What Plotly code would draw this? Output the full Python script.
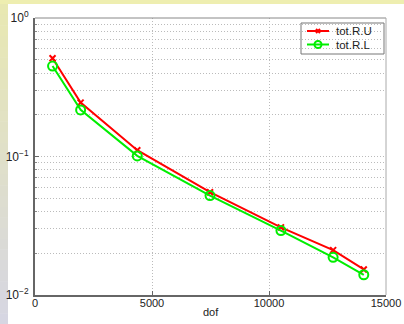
import plotly.graph_objects as go

dof = [750, 1950, 4370, 7480, 10510, 12740, 14050]
tot_R_U = [0.512, 0.245, 0.111, 0.0552, 0.0308, 0.0211, 0.0153]
tot_R_L = [0.450, 0.217, 0.101, 0.0522, 0.0292, 0.0187, 0.0140]
series_names = ["tot.R.U", "tot.R.L"]
series_colors = ["#ff0000", "#00ee00"]

x_ticks = [0, 5000, 10000, 15000]
x_ticktext = ["0", "5000", "10000", "15000"]
y_ticks = [0.01, 0.1, 1]
y_ticktext = ["10<sup>\u22122</sup>", "10<sup>\u22121</sup>", "10<sup>0</sup>"]
y_minor = [m * 10 ** e for e in (-2, -1) for m in range(2, 10)]
x_title = "dof"

W, H = 404, 324
ML, MR, MT, MB = 35, 18, 18, 29
PW, PH = W - ML - MR, H - MT - MB

def px2paper(x, y):
    return (x - ML) / PW, (H - MB - y) / PH

marker_u = dict(symbol="x-thin", size=6, color=series_colors[0], line=dict(color=series_colors[0], width=2))
marker_l = dict(symbol="circle-open", size=9, color=series_colors[1], line=dict(width=2))

fig = go.Figure()
fig.add_trace(go.Scatter(x=dof, y=tot_R_U, name=series_names[0], mode="lines+markers",
                         line=dict(color=series_colors[0], width=2), marker=marker_u, showlegend=False))
fig.add_trace(go.Scatter(x=dof, y=tot_R_L, name=series_names[1], mode="lines+markers",
                         line=dict(color=series_colors[1], width=2), marker=marker_l, showlegend=False))

# manual compact legend on an overlay pixel axis (y measured from top)
leg_rows = [31, 44.5]
for name, col, mk, yy in zip(series_names, series_colors, [marker_u, marker_l], leg_rows):
    fig.add_trace(go.Scatter(x=[307, 329], y=[yy, yy], mode="lines", line=dict(color=col, width=2),
                             xaxis="x2", yaxis="y2", showlegend=False, hoverinfo="skip"))
    fig.add_trace(go.Scatter(x=[318], y=[yy], mode="markers", marker=dict(mk, size=mk["size"] - 2),
                             xaxis="x2", yaxis="y2", showlegend=False, hoverinfo="skip"))

annotations = []
for name, yy in zip(series_names, leg_rows):
    ax, ay = px2paper(334, yy)
    annotations.append(dict(xref="paper", yref="paper", x=ax, y=ay, text=name, showarrow=False,
                            xanchor="left", yanchor="middle", font=dict(size=11.5, color="#222222")))
tx, ty = px2paper(ML + PW / 2, 312)
annotations.append(dict(xref="paper", yref="paper", x=tx, y=ty, text=x_title, showarrow=False,
                        xanchor="center", yanchor="middle", font=dict(size=11, color="#222222")))

shapes = []
x0, y0 = px2paper(0, 0)
x1, y1 = px2paper(W, 4)
shapes.append(dict(type="rect", xref="paper", yref="paper", x0=x0, x1=x1, y0=y1, y1=y0,
                   fillcolor="#eeeeb0", line=dict(width=0), layer="below"))
n = 30
c_top = (232, 232, 178)
c_bot = (214, 214, 226)
for i in range(n):
    t = i / (n - 1)
    c = tuple(int(round(a + (b - a) * t)) for a, b in zip(c_top, c_bot))
    ya = 4 + (H - 4) * i / n
    yb = 4 + (H - 4) * (i + 1) / n + 0.5
    xa, pya = px2paper(0, ya)
    xb, pyb = px2paper(8, yb)
    shapes.append(dict(type="rect", xref="paper", yref="paper", x0=xa, x1=xb, y0=pyb, y1=pya,
                       fillcolor="rgb(%d,%d,%d)" % c, line=dict(width=0), layer="below"))
shapes.append(dict(type="line", xref="paper", yref="paper", x0=0, x1=1, y0=1, y1=1,
                   line=dict(color="#888888", width=1)))
shapes.append(dict(type="line", xref="paper", yref="paper", x0=1, x1=1, y0=0, y1=1,
                   line=dict(color="#aaaaaa", width=1)))
# legend box
lx0, ly0 = px2paper(301, 23)
lx1, ly1 = px2paper(384, 54)
shapes.append(dict(type="rect", xref="paper", yref="paper", x0=lx0, x1=lx1, y0=ly1, y1=ly0,
                   fillcolor="white", line=dict(color="#777777", width=1), layer="below"))

grid_dash = "1px,2px"

fig.update_layout(
    width=W, height=H,
    margin=dict(l=ML, r=MR, t=MT, b=MB),
    paper_bgcolor="white", plot_bgcolor="white",
    font=dict(family="Liberation Sans, Arial, sans-serif", size=11, color="#222222"),
    shapes=shapes,
    annotations=annotations,
    showlegend=False,
    xaxis=dict(range=[0, 15000], tickvals=x_ticks, ticktext=x_ticktext, ticks="inside", ticklen=4,
               tickcolor="#666666", showline=True, linecolor="#666666", linewidth=2,
               showgrid=True, gridcolor="#bbbbbb", griddash=grid_dash, gridwidth=1,
               zeroline=False, ticklabelstandoff=-3, automargin=False,
               tickfont=dict(size=11)),
    yaxis=dict(type="log", range=[-2, 0], tickvals=y_ticks, ticktext=y_ticktext,
               ticks="inside", ticklen=4, tickcolor="#666666",
               showline=True, linecolor="#666666", linewidth=2,
               showgrid=True, gridcolor="#bbbbbb", griddash=grid_dash, gridwidth=1,
               zeroline=False, tickfont=dict(size=12), ticklabelstandoff=2, automargin=False,
               minor=dict(tickvals=y_minor, ticks="inside", ticklen=2, tickcolor="#888888",
                          showgrid=True, gridcolor="#bbbbbb", griddash=grid_dash, gridwidth=1)),
    xaxis2=dict(overlaying="x", range=[ML, ML + PW], visible=False, fixedrange=True),
    yaxis2=dict(overlaying="y", range=[MT + PH, MT], visible=False, fixedrange=True),
)

fig.write_html("out.html")
